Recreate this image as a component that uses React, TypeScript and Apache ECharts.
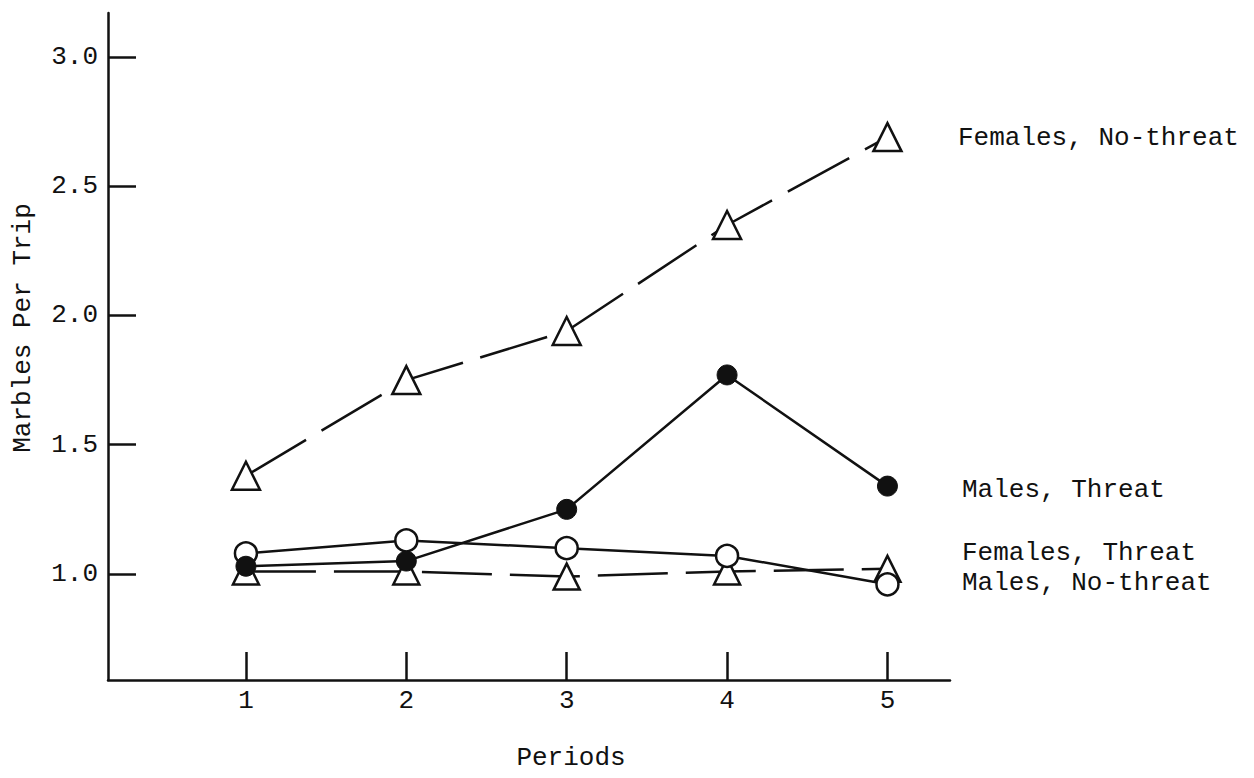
import React, { useEffect, useRef } from "react";
import * as echarts from "echarts";

const periods = [1, 2, 3, 4, 5];
const yTicks = [1.0, 1.5, 2.0, 2.5, 3.0];

const femalesNoThreat = [1.38, 1.75, 1.94, 2.35, 2.69];
const malesThreat = [1.03, 1.05, 1.25, 1.77, 1.34];
const femalesThreat = [1.08, 1.13, 1.10, 1.07, 0.96];
const malesNoThreat = [1.01, 1.01, 0.99, 1.01, 1.02];

const seriesLabels = [
  "Females, No-threat",
  "Males, Threat",
  "Females, Threat",
  "Males, No-threat",
];

const FONT = "'Liberation Mono', 'Courier New', monospace";
const INK = "#111";

function pairs(vals: number[]) {
  return periods.map((p, i) => [p, vals[i]]);
}

export default function App() {
  const ref = useRef<HTMLDivElement>(null);

  useEffect(() => {
    if (!ref.current) return;
    const chart = echarts.init(ref.current, null, { renderer: "svg" });

    const openStyle = { color: "#fff", borderColor: INK, borderWidth: 2.5 };

    chart.setOption({
      animation: false,
      backgroundColor: "#fff",
      grid: { left: 108, right: 304, top: 13, bottom: 98, containLabel: false },
      xAxis: {
        type: "value",
        min: 0.14,
        max: 5.39,
        splitLine: { show: false },
        axisLine: { show: true, lineStyle: { color: INK, width: 2.5 } },
        axisTick: {
          show: true,
          inside: true,
          length: 28,
          lineStyle: { color: INK, width: 2.5 },
          customValues: periods,
        },
        axisLabel: {
          show: true,
          margin: 8,
          color: INK,
          fontFamily: FONT,
          fontSize: 26,
          customValues: periods,
          formatter: (v: number) => String(v),
        },
      },
      yAxis: {
        type: "value",
        min: 0.59,
        max: 3.17,
        splitLine: { show: false },
        axisLine: { show: true, lineStyle: { color: INK, width: 2.5 } },
        axisTick: {
          show: true,
          inside: true,
          length: 28,
          lineStyle: { color: INK, width: 2.5 },
          customValues: yTicks,
        },
        axisLabel: {
          show: true,
          margin: 10,
          color: INK,
          fontFamily: FONT,
          fontSize: 26,
          customValues: yTicks,
          formatter: (v: number) => v.toFixed(1),
        },
      },
      series: [
        {
          name: seriesLabels[3],
          type: "line",
          data: pairs(malesNoThreat),
          symbol: "triangle",
          symbolSize: [26, 26],
          lineStyle: { color: INK, width: 2.5, type: [70, 18] },
          itemStyle: openStyle,
          z: 2,
        },
        {
          name: seriesLabels[2],
          type: "line",
          data: pairs(femalesThreat),
          symbol: "circle",
          symbolSize: 22,
          lineStyle: { color: INK, width: 2.5 },
          itemStyle: openStyle,
          z: 3,
        },
        {
          name: seriesLabels[1],
          type: "line",
          data: pairs(malesThreat),
          symbol: "circle",
          symbolSize: 20,
          lineStyle: { color: INK, width: 2.5 },
          itemStyle: { color: INK, borderColor: INK, borderWidth: 1 },
          z: 4,
        },
        {
          name: seriesLabels[0],
          type: "line",
          data: pairs(femalesNoThreat),
          symbol: "triangle",
          symbolSize: [28, 28],
          lineStyle: { color: INK, width: 2.5, type: [70, 18] },
          itemStyle: openStyle,
          z: 5,
        },
      ],
      graphic: [
        {
          type: "text",
          x: 958,
          y: 138,
          style: { text: seriesLabels[0], font: `26px ${FONT}`, fill: INK, textVerticalAlign: "middle" },
        },
        {
          type: "text",
          x: 962,
          y: 490,
          style: { text: seriesLabels[1], font: `26px ${FONT}`, fill: INK, textVerticalAlign: "middle" },
        },
        {
          type: "text",
          x: 962,
          y: 553,
          style: { text: seriesLabels[2], font: `26px ${FONT}`, fill: INK, textVerticalAlign: "middle" },
        },
        {
          type: "text",
          x: 962,
          y: 583,
          style: { text: seriesLabels[3], font: `26px ${FONT}`, fill: INK, textVerticalAlign: "middle" },
        },
        {
          type: "text",
          x: 23,
          y: 328,
          rotation: Math.PI / 2,
          style: {
            text: "Marbles Per Trip",
            font: `26px ${FONT}`,
            fill: INK,
            textAlign: "center",
            textVerticalAlign: "middle",
          },
        },
        {
          type: "text",
          x: 571,
          y: 758,
          style: {
            text: "Periods",
            font: `26px ${FONT}`,
            fill: INK,
            textAlign: "center",
            textVerticalAlign: "middle",
          },
        },
      ],
    });

    return () => chart.dispose();
  }, []);

  return (
    <div
      ref={ref}
      style={{ position: "absolute", left: 0, top: 0, width: 1254, height: 778, background: "#fff" }}
    />
  );
}
